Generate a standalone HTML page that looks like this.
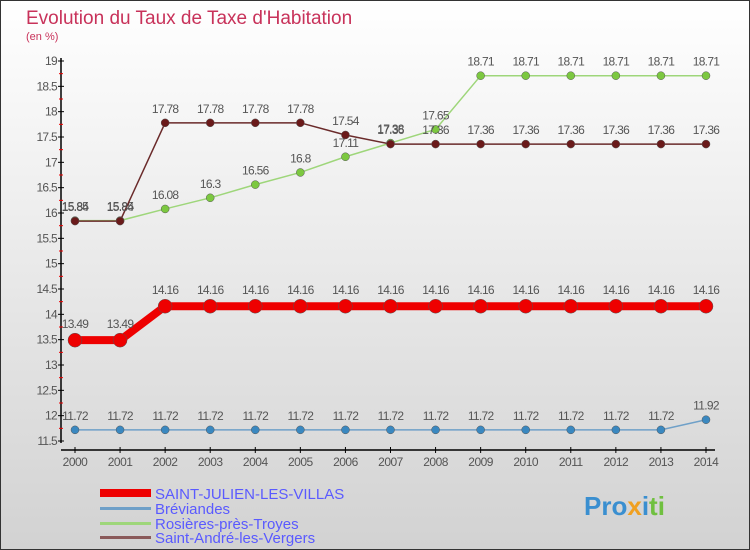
<!DOCTYPE html>
<html><head><meta charset="utf-8"><style>
body{margin:0;}
#c{width:750px;height:550px;position:relative;overflow:hidden;font-family:"Liberation Sans",sans-serif;}
</style></head><body>
<div id="c">
<svg id="s" width="750" height="550" xmlns="http://www.w3.org/2000/svg">
<defs><linearGradient id="bg" x1="0" y1="0" x2="0" y2="1"><stop offset="0" stop-color="#ffffff"/><stop offset="1" stop-color="#d2d2d2"/></linearGradient></defs>
<rect x="0.5" y="0.5" width="749" height="549" fill="url(#bg)" stroke="#333"/>
<text x="26" y="24" font-size="19" fill="#c8325a">Evolution du Taux de Taxe d'Habitation</text>
<text x="26" y="40" font-size="11" fill="#c8325a">(en %)</text>
<g id="axes"></g><g id="series"></g>
<g>
<rect x="100" y="489" width="51" height="8" fill="#e00"/>
<text x="155" y="499" font-size="15" fill="#5a5aff">SAINT-JULIEN-LES-VILLAS</text>
<rect x="100" y="507" width="51" height="3" fill="#6fa0c8"/>
<text x="155" y="514" font-size="15" fill="#5a5aff">Bréviandes</text>
<rect x="100" y="522" width="51" height="3" fill="#9ed67a"/>
<text x="155" y="529" font-size="15" fill="#5a5aff">Rosières-près-Troyes</text>
<rect x="100" y="536" width="51" height="3" fill="#8a5a5a"/>
<text x="155" y="543" font-size="15" fill="#5a5aff">Saint-André-les-Vergers</text>
</g>
<text x="584" y="515" font-size="26" font-weight="bold" fill="#3a8fd0">Pro<tspan fill="#f0a020">x</tspan><tspan fill="#3a8fd0">i</tspan><tspan fill="#70c040">ti</tspan></text>
</svg>
</div>
<script>
const years=[2000,2001,2002,2003,2004,2005,2006,2007,2008,2009,2010,2011,2012,2013,2014];
const yTicks=[11.5,12,12.5,13,13.5,14,14.5,15,15.5,16,16.5,17,17.5,18,18.5,19];
const saintJulien=[13.49,13.49,14.16,14.16,14.16,14.16,14.16,14.16,14.16,14.16,14.16,14.16,14.16,14.16,14.16];
const breviandes=[11.72,11.72,11.72,11.72,11.72,11.72,11.72,11.72,11.72,11.72,11.72,11.72,11.72,11.72,11.92];
const rosieres=[15.85,15.85,16.08,16.3,16.56,16.8,17.11,17.38,17.65,18.71,18.71,18.71,18.71,18.71,18.71];
const saintAndre=[15.84,15.84,17.78,17.78,17.78,17.78,17.54,17.36,17.36,17.36,17.36,17.36,17.36,17.36,17.36];
const NS="http://www.w3.org/2000/svg";
const X=i=>75+i*(706-75)/(years.length-1);
const Y=v=>61+(19-v)*(441-61)/(19-11.5);
function mk(t,a,p){const e=document.createElementNS(NS,t);for(const k in a)e.setAttribute(k,a[k]);p.appendChild(e);return e;}
const ax=document.getElementById('axes');
let yl=mk('line',{x1:61,y1:58,x2:61,y2:443,stroke:'#000','stroke-width':1.5},ax);


yTicks.forEach(v=>{
  mk('line',{x1:58,x2:64,y1:Y(v),y2:Y(v),stroke:'#000'},ax);
  if(v<19) mk('line',{x1:59,x2:63,y1:Y(v+0.25),y2:Y(v+0.25),stroke:'#e00'},ax);
  const t=mk('text',{x:57,y:Y(v)+4,'font-size':12,fill:'#555','text-anchor':'end','letter-spacing':'-0.7'},ax);t.textContent=v;
  
  
});
let xl=mk('line',{x1:61,y1:450,x2:715,y2:450,stroke:'#000','stroke-width':1.5},ax);


years.forEach((y,i)=>{
  mk('line',{x1:X(i),x2:X(i),y1:447,y2:453,stroke:'#000'},ax);
  const t=mk('text',{x:X(i),y:466,'font-size':12,fill:'#555','text-anchor':'middle','letter-spacing':'-0.5'},ax);t.textContent=y;
  
  
});
const sg=document.getElementById('series');
function series(d,name,col,w,r,dot,labelDy){
  const g=mk('g',{},sg);
  
  
  mk('polyline',{points:d.map((v,i)=>X(i)+','+Y(v)).join(' '),fill:'none',stroke:col,'stroke-width':w},g);
  d.forEach((v,i)=>{
    const c=mk('circle',{cx:X(i),cy:Y(v),r:r,fill:dot,stroke:'#555','stroke-width':0.5},g);
    
    
    const t=mk('text',{x:X(i),y:Y(v)+labelDy,'font-size':12,fill:'#555','text-anchor':'middle','letter-spacing':'-0.7'},g);t.textContent=v;
    
    
  });
}
series(breviandes,'breviandes','#6fa0c8',1.5,4,'#3a88c0',-10);
series(rosieres,'rosieres','#9ed67a',1.5,4,'#7cc840',-10);
series(saintAndre,'saint-andre','#6a2a2a',1.5,4,'#6a1a1a',-10);
series(saintJulien,'saint-julien','#e00',8,7,'#e00',-12);
</script>
</body></html>
